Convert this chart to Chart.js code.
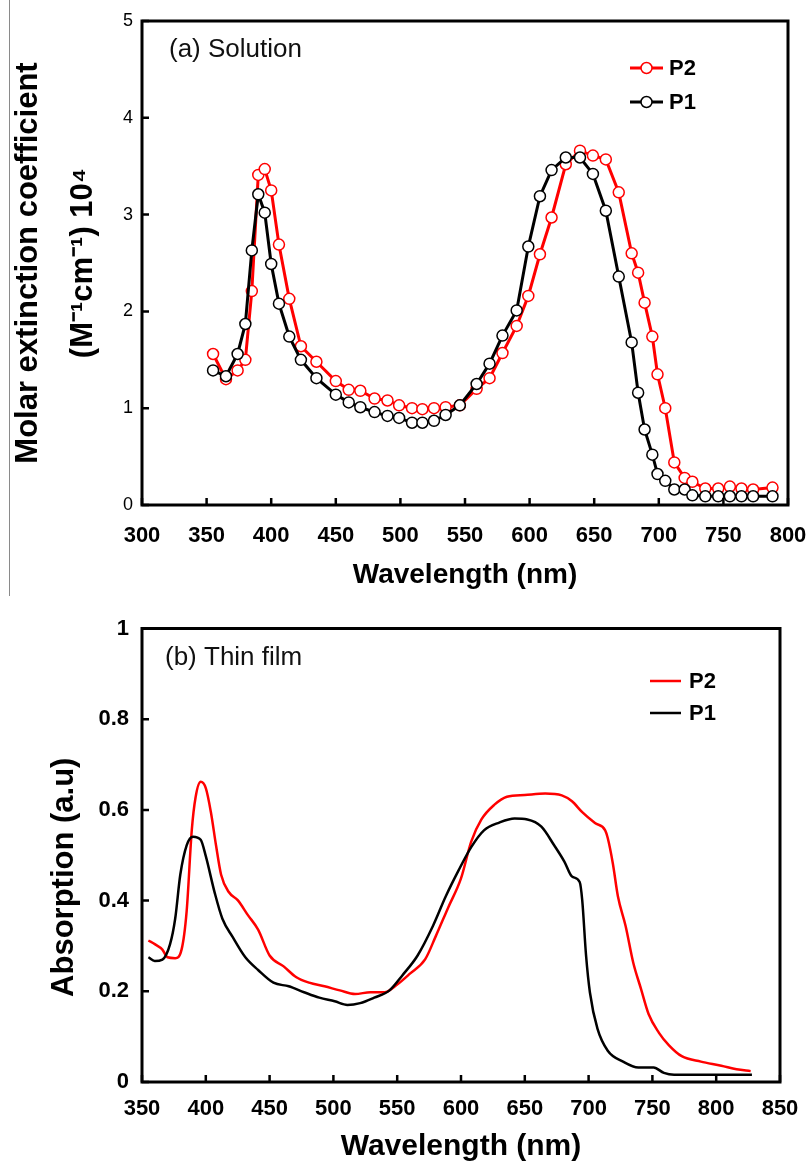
<!DOCTYPE html>
<html>
<head>
<meta charset="utf-8">
<title>P1 / P2 absorption</title>
<script src="https://cdn.jsdelivr.net/npm/chart.js@4.4.1/dist/chart.umd.min.js"></script>
<style>
  html, body { margin:0; padding:0; background:#fff; }
  #page { position:relative; width:808px; height:1162px; overflow:hidden; }
  .box { position:absolute; left:0; width:808px; }
  #boxA { top:0; height:590px; }
  #boxB { top:590px; height:572px; }
  #edge { position:absolute; left:9px; top:0; width:1px; height:596px; background:#8a8a8a; }
</style>
</head>
<body>
<div id="page">
  <div id="edge"></div>
  <div class="box" id="boxA"><canvas id="chartA"></canvas></div>
  <div class="box" id="boxB"><canvas id="chartB"></canvas></div>
</div>
<script>
/* (a) Solution: wavelength (nm) and molar extinction coefficient (x 10^4) */
var WL_A = [355,365,374,380,385,390,395,400,406,414,423,435,450,460,469,480,490,499,509,517,
            526,535,546,559,569,579,590,599,608,617,628,639,649,659,669,679,684,689,695,699,
            705,712,720,726,736,746,755,764,773,788];
var P2_A = [1.56,1.30,1.39,1.50,2.21,3.41,3.47,3.25,2.69,2.13,1.64,1.48,1.28,1.19,1.18,1.10,1.08,1.03,1.00,0.99,
            1.00,1.01,1.03,1.20,1.31,1.57,1.85,2.16,2.59,2.97,3.52,3.66,3.61,3.57,3.23,2.60,2.40,2.09,1.74,1.35,
            1.00,0.44,0.28,0.24,0.17,0.17,0.19,0.17,0.16,0.18];
var P1_A = [1.39,1.33,1.56,1.87,2.63,3.21,3.02,2.49,2.08,1.74,1.50,1.31,1.14,1.06,1.01,0.96,0.92,0.90,0.85,0.85,
            0.87,0.93,1.03,1.25,1.46,1.75,2.01,2.67,3.19,3.46,3.59,3.59,3.42,3.04,2.36,1.68,1.16,0.78,0.52,0.32,
            0.25,0.16,0.16,0.10,0.09,0.09,0.09,0.09,0.09,0.09];

/* (b) Thin film: absorption (a.u) */
var WL_B_P2 = [355,360,366,370,376,381,385,389,392,396,400,404,408,412,418,425,433,441,450,461,
               471,481,493,505,517,529,540,550,560,572,580,590,600,608,616,626,636,650,666,679,
               687,695,705,713,715,719,723,729,735,741,747,755,763,773,788,804,816,827];
var ABS_B_P2 = [0.312,0.304,0.292,0.275,0.273,0.292,0.377,0.555,0.628,0.662,0.648,0.595,0.522,0.457,0.419,0.401,0.368,0.336,0.279,0.255,
                0.231,0.219,0.211,0.202,0.194,0.198,0.198,0.215,0.239,0.271,0.320,0.385,0.449,0.530,0.579,0.611,0.629,0.633,0.636,0.632,
                0.619,0.595,0.571,0.555,0.538,0.482,0.409,0.344,0.263,0.206,0.150,0.109,0.081,0.057,0.045,0.036,0.028,0.024];
var WL_B_P1 = [355,360,366,372,376,380,385,390,396,400,407,413,421,431,441,453,465,477,489,501,
               511,521,532,544,554,566,578,588,598,608,618,630,642,652,663,673,681,687,693,695,
               698,701,707,715,727,739,751,759,767,828];
var ABS_B_P1 = [0.275,0.267,0.270,0.304,0.360,0.457,0.522,0.541,0.534,0.498,0.417,0.360,0.320,0.275,0.247,0.219,0.211,0.198,0.186,0.178,
                0.170,0.174,0.186,0.202,0.235,0.279,0.344,0.409,0.466,0.518,0.555,0.572,0.581,0.579,0.563,0.522,0.486,0.453,0.441,0.401,
                0.279,0.198,0.117,0.069,0.045,0.032,0.032,0.020,0.016,0.016];

var SERIES = ["P2", "P1"];
var RED = "#ff0000", BLACK = "#000000";
var FONT = "'Liberation Sans', Arial, Helvetica, sans-serif";

function pairs(xs, ys){
  var out = [];
  for (var i=0;i<xs.length;i++) out.push({ x: xs[i], y: ys[i] });
  return out;
}

// fixed axis box sizes, no extra room for half labels at the ends
function fixSize(w, h){
  return function(s){
    if (w !== null) s.width = w;
    if (h !== null) s.height = h;
    s.paddingLeft = 0; s.paddingRight = 0; s.paddingTop = 0; s.paddingBottom = 0;
  };
}

// box round the plot, inward tick marks, the panel tag, the legend and an optional free y title
var panelDeco = {
  id: "panelDeco",
  afterDatasetsDraw: function(chart, args, o){
    var a = chart.chartArea, ctx = chart.ctx;
    ctx.save();

    // inward ticks, placed by the scales themselves
    ctx.strokeStyle = "#000"; ctx.lineWidth = 2.5;
    var sx = chart.scales.x, sy = chart.scales.y, i, p;
    ctx.beginPath();
    for (i=0;i<sx.ticks.length;i++){
      p = sx.getPixelForValue(sx.ticks[i].value);
      ctx.moveTo(p, a.bottom); ctx.lineTo(p, a.bottom - 7);
    }
    for (i=0;i<sy.ticks.length;i++){
      p = sy.getPixelForValue(sy.ticks[i].value);
      ctx.moveTo(a.left, p); ctx.lineTo(a.left + 7, p);
    }
    ctx.stroke();

    ctx.lineWidth = 3;
    ctx.strokeRect(a.left, a.top, a.right - a.left, a.bottom - a.top);

    ctx.fillStyle = "#111";
    ctx.font = o.tagFont;
    ctx.textAlign = "left"; ctx.textBaseline = "middle";
    ctx.fillText(o.tag, a.left + o.tagX, a.top + o.tagY);

    var ds = chart.data.datasets;
    for (i=0;i<ds.length;i++){
      var y = a.top + o.legY + i*o.legGap;
      var x0 = a.left + o.legX, x1 = x0 + o.legLen;
      ctx.strokeStyle = ds[i].borderColor; ctx.lineWidth = ds[i].borderWidth;
      ctx.beginPath(); ctx.moveTo(x0, y); ctx.lineTo(x1, y); ctx.stroke();
      if (ds[i].pointRadius){
        ctx.beginPath();
        ctx.arc((x0+x1)/2, y, ds[i].pointRadius, 0, Math.PI*2);
        ctx.fillStyle = "#fff"; ctx.fill();
        ctx.lineWidth = ds[i].pointBorderWidth; ctx.stroke();
      }
      ctx.fillStyle = "#000"; ctx.font = o.legFont;
      ctx.fillText(ds[i].label, x1 + o.legTextGap, y + 1);
    }

    if (o.yTitle){
      ctx.save();
      ctx.translate(o.yTitle.x, (a.top + a.bottom)/2 + o.yTitle.dy);
      ctx.rotate(-Math.PI/2);
      ctx.font = o.yTitle.font; ctx.fillStyle = "#000";
      ctx.textAlign = "center"; ctx.textBaseline = "middle";
      ctx.fillText(o.yTitle.text, 0, 0);
      ctx.restore();
    }
    ctx.restore();
  }
};

Chart.defaults.font.family = FONT;
Chart.defaults.color = "#000";

var NO_GRID = { display:false, drawTicks:false };

/* ---------- (a) Solution ---------- */
new Chart(document.getElementById("chartA"), {
  type: "line",
  data: {
    datasets: [
      { label: SERIES[0], data: pairs(WL_A, P2_A), order: 2,
        borderColor: RED, borderWidth: 3, tension: 0,
        pointRadius: 5.5, pointBorderWidth: 1.5, pointBorderColor: RED, pointBackgroundColor: "#fff" },
      { label: SERIES[1], data: pairs(WL_A, P1_A), order: 1,
        borderColor: BLACK, borderWidth: 3, tension: 0,
        pointRadius: 5.5, pointBorderWidth: 1.5, pointBorderColor: BLACK, pointBackgroundColor: "#fff" }
    ]
  },
  options: {
    responsive: true, maintainAspectRatio: false, animation: false,
    layout: { padding: { top: 21, right: 20, left: 0, bottom: 0 } },
    plugins: {
      legend: { display: false }, tooltip: { enabled: false },
      panelDeco: {
        tag: "(a) Solution", tagFont: "26px " + FONT, tagX: 27, tagY: 29,
        legFont: "bold 22px " + FONT, legX: 488, legLen: 33, legTextGap: 6, legY: 47, legGap: 34
      }
    },
    scales: {
      x: {
        type: "linear", min: 300, max: 800,
        ticks: { stepSize: 50, padding: 18, font: { size: 22, weight: "bold" } },
        grid: NO_GRID, border: { display: false },
        title: { display: true, text: "Wavelength (nm)", font: { size: 28, weight: "bold", lineHeight: 1 }, padding: { top: 0, bottom: 1 } },
        afterFit: fixSize(null, 85)
      },
      y: {
        min: 0, max: 5,
        ticks: { stepSize: 1, padding: 9, font: { size: 18 } },
        grid: NO_GRID, border: { display: false },
        title: { display: true, text: ["Molar extinction coefficient", "(M\u207B\u00B9cm\u207B\u00B9) 10\u2074"],
                 font: { size: 31, weight: "bold", lineHeight: 1.77 }, padding: { top: 1, bottom: 0 } },
        afterFit: fixSize(142, null)
      }
    }
  },
  plugins: [panelDeco]
});

/* ---------- (b) Thin film ---------- */
new Chart(document.getElementById("chartB"), {
  type: "line",
  data: {
    datasets: [
      { label: SERIES[0], data: pairs(WL_B_P2, ABS_B_P2), order: 2,
        borderColor: RED, borderWidth: 2.5, cubicInterpolationMode: "monotone", pointRadius: 0 },
      { label: SERIES[1], data: pairs(WL_B_P1, ABS_B_P1), order: 1,
        borderColor: BLACK, borderWidth: 2.5, cubicInterpolationMode: "monotone", pointRadius: 0 }
    ]
  },
  options: {
    responsive: true, maintainAspectRatio: false, animation: false,
    layout: { padding: { top: 38.5, right: 28, left: 0, bottom: 0 } },
    plugins: {
      legend: { display: false }, tooltip: { enabled: false },
      panelDeco: {
        tag: "(b) Thin film", tagFont: "26px " + FONT, tagX: 23, tagY: 29.5,
        legFont: "bold 22px " + FONT, legX: 508, legLen: 31, legTextGap: 8, legY: 52.5, legGap: 32,
        yTitle: { text: "Absorption (a.u)", x: 64, dy: 22, font: "bold 31px " + FONT }
      }
    },
    scales: {
      x: {
        type: "linear", min: 350, max: 850,
        ticks: { stepSize: 50, padding: 14, font: { size: 22, weight: "bold" } },
        grid: NO_GRID, border: { display: false },
        title: { display: true, text: "Wavelength (nm)", font: { size: 30, weight: "bold", lineHeight: 1 }, padding: { top: 0, bottom: 0 } },
        afterFit: fixSize(null, 80)
      },
      y: {
        min: 0, max: 1,
        ticks: { stepSize: 0.2, padding: 13, font: { size: 22, weight: "bold" },
                 callback: function(v){ return String(Math.round(v*10)/10); } },
        grid: NO_GRID, border: { display: false },
        afterFit: fixSize(142, null)
      }
    }
  },
  plugins: [panelDeco]
});
</script>
</body>
</html>
